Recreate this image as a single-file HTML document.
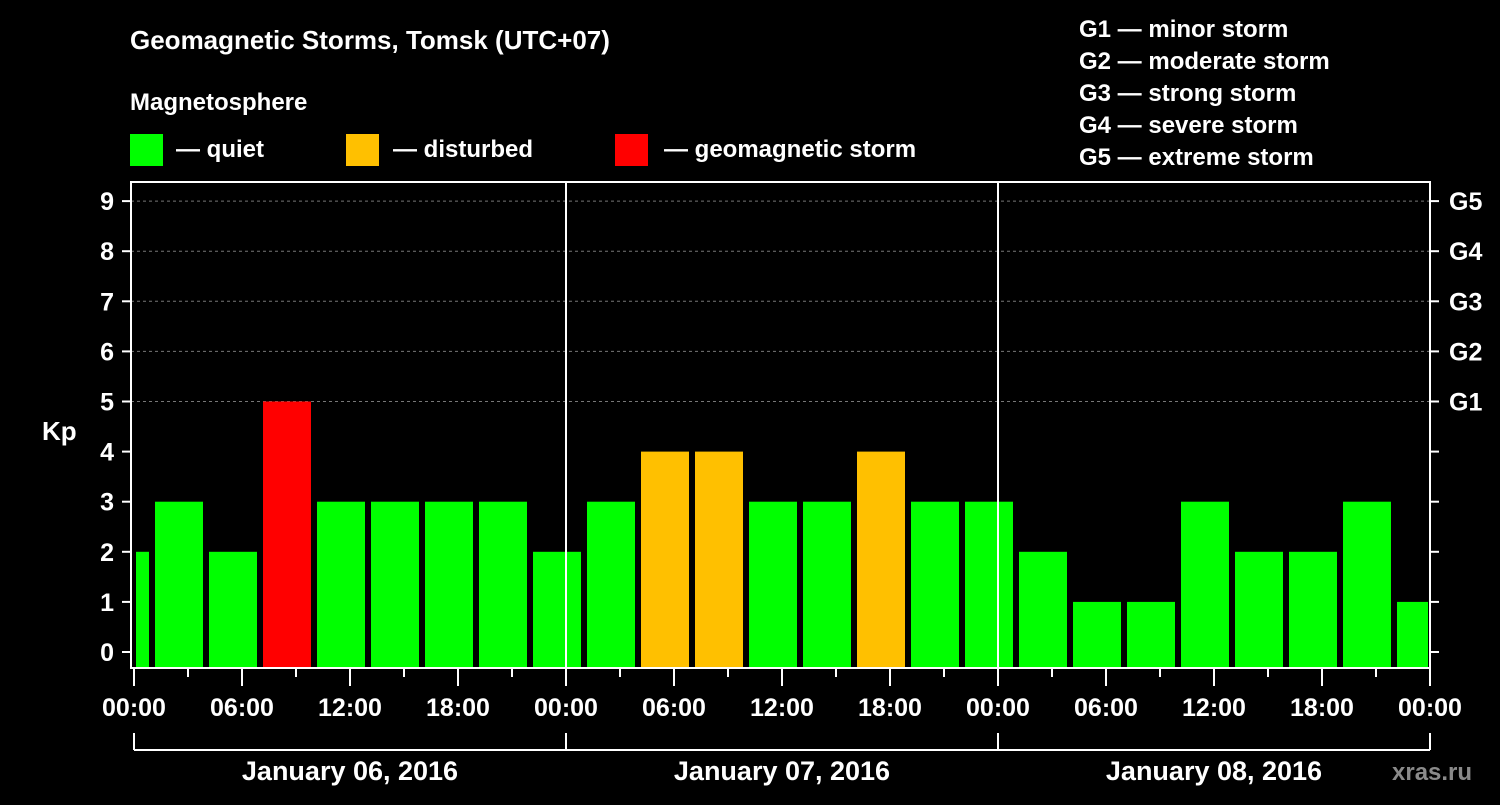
<!DOCTYPE html>
<html><head><meta charset="utf-8"><style>
body{margin:0;background:#000;}
svg text{font-family:"Liberation Sans",Arial,sans-serif;font-weight:bold;fill:#fff;}
</style></head><body>
<svg id="chart" width="1500" height="800" xmlns="http://www.w3.org/2000/svg">
<rect width="1500" height="800" fill="#000"/>
<text x="130" y="49" font-size="26">Geomagnetic Storms, Tomsk (UTC+07)</text>
<text x="130" y="110" font-size="24">Magnetosphere</text>
<g>
<rect x="130" y="134" width="33" height="32" fill="#00ff00"/>
<text x="176" y="157" font-size="24">— quiet</text>
<rect x="346" y="134" width="33" height="32" fill="#ffc000"/>
<text x="393" y="157" font-size="24">— disturbed</text>
<rect x="615" y="134" width="33" height="32" fill="#ff0000"/>
<text x="664" y="157" font-size="24">— geomagnetic storm</text>
</g>
<g font-size="24">
<text x="1079" y="37">G1 — minor storm</text>
<text x="1079" y="69">G2 — moderate storm</text>
<text x="1079" y="101">G3 — strong storm</text>
<text x="1079" y="133">G4 — severe storm</text>
<text x="1079" y="165">G5 — extreme storm</text>
</g>
<text x="42" y="440" font-size="26">Kp</text>
<text x="1392" y="780" font-size="24" fill="#888" style="fill:#8a8a8a">xras.ru</text>
<g id="plot"></g>
</svg>
<script>
const kpValues=[2,3,2,5,3,3,3,3,2,3,4,4,3,3,4,3,3,2,1,1,3,2,2,3,1];
const barStartHours=[-2,1,4,7,10,13,16,19,22,25,28,31,34,37,40,43,46,49,52,55,58,61,64,67,70];
const xTickLabels=["00:00","06:00","12:00","18:00","00:00","06:00","12:00","18:00","00:00","06:00","12:00","18:00","00:00"];
const dayLabels=["January 06, 2016","January 07, 2016","January 08, 2016"];
const gLabels=["G1","G2","G3","G4","G5"];
const NS="http://www.w3.org/2000/svg";
const L=131,R=1430,T=182,B=668,X0=134,PXH=18;
const x=h=>X0+h*PXH;
const y=v=>652-v*50.1;
const g=document.getElementById('plot');
function mk(t,a,txt){const e=document.createElementNS(NS,t);for(const k in a)e.setAttribute(k,a[k]);if(txt!==undefined)e.textContent=txt;g.appendChild(e);return e;}
// grid
for(let v=5;v<=9;v++){const e=mk('line',{x1:L,x2:R,y1:y(v),y2:y(v),stroke:'#777','stroke-dasharray':'3,3','stroke-width':1});
}
// bars
kpValues.forEach((v,i)=>{
 let x1=Math.max(x(barStartHours[i])+3,L+5),x2=Math.min(x(barStartHours[i]+3)-3,R-2);
 const c=v>=5?'#ff0000':v>=4?'#ffc000':'#00ff00';
 const e=mk('rect',{x:x1,y:y(v),width:x2-x1,height:B-y(v),fill:c});
 
});
// day separators
[24,48].forEach(h=>{const e=mk('line',{x1:x(h),x2:x(h),y1:T,y2:B,stroke:'#fff','stroke-width':2});
});
// frame
const f=mk('rect',{x:L,y:T,width:R-L,height:B-T,fill:'none',stroke:'#fff','stroke-width':2});

// y ticks and labels
for(let v=0;v<=9;v++){
 mk('line',{x1:L-9,x2:L,y1:y(v),y2:y(v),stroke:'#fff','stroke-width':2});
 mk('line',{x1:R,x2:R+9,y1:y(v),y2:y(v),stroke:'#fff','stroke-width':2});
 const t=mk('text',{x:114,y:y(v)+9,'font-size':25,'text-anchor':'end'},String(v));
 
}
gLabels.forEach((s,i)=>{const t=mk('text',{x:1449,y:y(5+i)+9,'font-size':25},s);
});
// x ticks
for(let h=0;h<=72;h+=3){const major=h%6===0;mk('line',{x1:x(h),x2:x(h),y1:B,y2:B+(major?18:9),stroke:'#fff','stroke-width':2});}
xTickLabels.forEach((s,i)=>{const t=mk('text',{x:x(i*6),y:716,'font-size':25,'text-anchor':'middle'},s);
});
// date bracket
mk('line',{x1:x(0),x2:x(72),y1:750,y2:750,stroke:'#fff','stroke-width':2});
[0,24,48,72].forEach(h=>mk('line',{x1:x(h),x2:x(h),y1:733,y2:750,stroke:'#fff','stroke-width':2}));
dayLabels.forEach((s,i)=>{const t=mk('text',{x:x(i*24+12),y:780,'font-size':27,'text-anchor':'middle'},s);
});
</script>
</body></html>
